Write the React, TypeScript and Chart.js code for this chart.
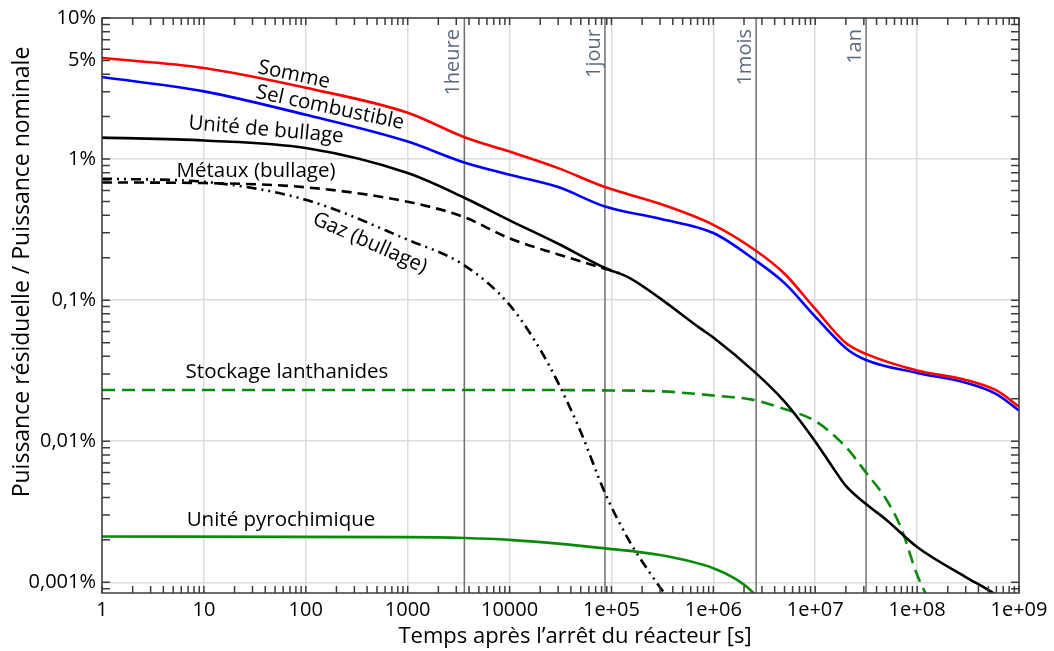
import React, { useEffect, useRef } from "react";
import { Chart, registerables } from "chart.js";

Chart.register(...registerables);

const FONT = '"Open Sans", "DejaVu Sans", sans-serif';

// ---- axes ----
const xTickValues = [1, 10, 100, 1000, 1e4, 1e5, 1e6, 1e7, 1e8, 1e9];
const xTickLabels = ["1", "10", "100", "1000", "10000", "1e+05", "1e+06", "1e+07", "1e+08", "1e+09"];
const yTickValues = [0.001, 0.01, 0.1, 1, 5, 10];
const yTickLabels = ["0,001%", "0,01%", "0,1%", "1%", "5%", "10%"];
const xMin = 1;
const xMax = 1e9;
const yMin = 0.00084;
const yMax = 10;

const xAxisTitle = "Temps après l’arrêt du réacteur [s]";
const yAxisTitle = "Puissance résiduelle / Puissance nominale";

// ---- time markers ----
const eventTimes = [3600, 86400, 2629800, 31557600];
const eventLabels = ["1heure", "1jour", "1mois", "1an"];

// ---- series (values in % of nominal power) ----
const sommeTimes = [1, 10, 100, 1000, 3600, 1e4, 3e4, 86400, 3e5, 1e6, 2.6e6, 5e6, 1e7, 2e7, 3.15e7, 1e8, 3e8, 6e8, 1e9];
const sommeValues = [5.2, 4.42, 3.2, 2.13, 1.43, 1.13, 0.863, 0.633, 0.482, 0.342, 0.225, 0.154, 0.0866, 0.0496, 0.0416, 0.0317, 0.0272, 0.0229, 0.0176];

const selTimes = [1, 10, 100, 1000, 3600, 1e4, 3e4, 86400, 3e5, 1e6, 2.6e6, 5e6, 1e7, 2e7, 3.15e7, 1e8, 3e8, 6e8, 1e9];
const selValues = [3.82, 3.02, 2.06, 1.33, 0.946, 0.774, 0.633, 0.461, 0.377, 0.299, 0.191, 0.132, 0.0765, 0.0457, 0.0377, 0.0305, 0.026, 0.0216, 0.0165];

const bullageTimes = [1, 10, 100, 1000, 3600, 1e4, 3e4, 86400, 1.5e5, 3e5, 7.4e5, 1e6, 2.6e6, 5e6, 7e6, 1e7, 1.5e7, 2e7, 3.15e7, 5e7, 1e8, 3e8, 6e8, 1e9];
const bullageValues = [1.42, 1.355, 1.197, 0.796, 0.532, 0.368, 0.251, 0.169, 0.144, 0.103, 0.0633, 0.0543, 0.0305, 0.0191, 0.01416, 0.00997, 0.00647, 0.00482, 0.00359, 0.00277, 0.00178, 0.00109, 0.00081, 0.0006];

const metauxTimes = [1, 10, 100, 1000, 3600, 1e4, 3e4, 86400, 1.2e5];
const metauxValues = [0.683, 0.676, 0.631, 0.498, 0.387, 0.274, 0.211, 0.167, 0.155];

const gazTimes = [1, 10, 100, 1000, 3600, 1e4, 2e4, 3e4, 5e4, 86400, 1.5e5, 2.5e5, 4e5];
const gazValues = [0.726, 0.69, 0.514, 0.268, 0.1766, 0.0926, 0.0446, 0.0259, 0.01164, 0.0043, 0.00196, 0.00111, 0.00069];

const lanthTimes = [1, 1e4, 1e5, 3e5, 1e6, 2.6e6, 5e6, 1e7, 2e7, 3.15e7, 5e7, 7e7, 1e8, 1.3e8];
const lanthValues = [0.0231, 0.0231, 0.0229, 0.0226, 0.0211, 0.0195, 0.0169, 0.0139, 0.0091, 0.006, 0.00385, 0.0024, 0.00113, 0.00075];

const pyroTimes = [1, 1000, 3600, 1e4, 3e4, 86400, 3e5, 1e6, 1.6e6, 2.4e6, 3.5e6];
const pyroValues = [0.00211, 0.00209, 0.00206, 0.002, 0.00188, 0.00174, 0.00156, 0.00126, 0.00107, 0.00086, 0.0006];

// ---- curve annotations: text, time, value, angle (deg) ----
const curveLabelTexts = ["Somme", "Sel combustible", "Unité de bullage", "Métaux (bullage)", "Gaz (bullage)", "Stockage lanthanides", "Unité pyrochimique"];
const curveLabelTimes = [76.6, 172.8, 40.7, 32.5, 426, 65.4, 57.1];
const curveLabelValues = [3.96, 2.31, 1.61, 0.824, 0.254, 0.031, 0.00277];
const curveLabelAngles = [12, 12, 5, 0, 24, 0, 0];

const pts = (ts: number[], vs: number[]) => ts.map((t, i) => ({ x: t, y: vs[i] }));

const decoPlugin = {
  id: "deco",
  beforeDatasetsDraw(chart: any) {
    const { ctx, chartArea: a, scales } = chart;
    const x = scales.x;
    ctx.save();
    eventTimes.forEach((t, i) => {
      const px = x.getPixelForValue(t);
      ctx.strokeStyle = "#6f6f6f";
      ctx.lineWidth = 1.5;
      ctx.beginPath();
      ctx.moveTo(px, a.top);
      ctx.lineTo(px, a.bottom);
      ctx.stroke();
      ctx.save();
      ctx.translate(px - 5, a.top + 11);
      ctx.rotate(-Math.PI / 2);
      ctx.fillStyle = "#5a6a7e";
      ctx.font = `20px ${FONT}`;
      ctx.textAlign = "right";
      ctx.textBaseline = "alphabetic";
      ctx.fillText(eventLabels[i], 0, 0);
      ctx.restore();
    });
    ctx.restore();
  },
  afterDatasetsDraw(chart: any) {
    const { ctx, chartArea: a, scales } = chart;
    const x = scales.x;
    const y = scales.y;
    ctx.save();
    // frame
    ctx.strokeStyle = "#3c3c3c";
    ctx.lineWidth = 1.5;
    ctx.strokeRect(a.left, a.top, a.right - a.left, a.bottom - a.top);
    // inward minor ticks
    ctx.beginPath();
    for (let e = 0; e <= 9; e++) {
      for (let k = 1; k <= 9; k++) {
        const v = k * Math.pow(10, e);
        if (v > xMax) break;
        const px = x.getPixelForValue(v);
        ctx.moveTo(px, a.bottom);
        ctx.lineTo(px, a.bottom - 7);
        ctx.moveTo(px, a.top);
        ctx.lineTo(px, a.top + 7);
      }
    }
    for (let e = -4; e <= 1; e++) {
      for (let k = 1; k <= 9; k++) {
        const v = k * Math.pow(10, e);
        if (v < yMin || v > yMax) continue;
        const py = y.getPixelForValue(v);
        ctx.moveTo(a.left, py);
        ctx.lineTo(a.left + 8, py);
        ctx.moveTo(a.right, py);
        ctx.lineTo(a.right - 8, py);
      }
    }
    ctx.stroke();
    // curve labels
    ctx.fillStyle = "#000";
    ctx.font = `20.5px ${FONT}`;
    ctx.textAlign = "center";
    ctx.textBaseline = "middle";
    curveLabelTexts.forEach((txt, i) => {
      const px = x.getPixelForValue(curveLabelTimes[i]);
      const py = y.getPixelForValue(curveLabelValues[i]);
      ctx.save();
      ctx.translate(px, py);
      ctx.rotate((curveLabelAngles[i] * Math.PI) / 180);
      ctx.fillText(txt, 0, 0);
      ctx.restore();
    });
    // axis titles
    ctx.fillStyle = "#000";
    ctx.font = `22px ${FONT}`;
    ctx.textAlign = "center";
    ctx.textBaseline = "middle";
    ctx.fillText(xAxisTitle, 575, 637);
    ctx.save();
    ctx.translate(22, 272);
    ctx.rotate(-Math.PI / 2);
    ctx.font = `23px ${FONT}`;
    ctx.fillText(yAxisTitle, 0, 0);
    ctx.restore();
    ctx.restore();
  },
};

export default function App() {
  const ref = useRef<HTMLCanvasElement | null>(null);
  useEffect(() => {
    if (!ref.current) return;
    const base = { pointRadius: 0, fill: false, cubicInterpolationMode: "monotone" as const, borderWidth: 2.6 };
    const chart = new Chart(ref.current, {
      type: "line",
      data: {
        datasets: [
          { ...base, label: "Somme", data: pts(sommeTimes, sommeValues), borderColor: "#ff0000" },
          { ...base, label: "Sel combustible", data: pts(selTimes, selValues), borderColor: "#0000ff" },
          { ...base, label: "Métaux (bullage)", data: pts(metauxTimes, metauxValues), borderColor: "#000", borderDash: [10, 6] },
          { ...base, label: "Gaz (bullage)", data: pts(gazTimes, gazValues), borderColor: "#000", borderDash: [10, 5, 2, 5, 2, 5] },
          { ...base, label: "Unité de bullage", data: pts(bullageTimes, bullageValues), borderColor: "#000" },
          { ...base, label: "Stockage lanthanides", data: pts(lanthTimes, lanthValues), borderColor: "#0a8a0a", borderDash: [13, 7] },
          { ...base, label: "Unité pyrochimique", data: pts(pyroTimes, pyroValues), borderColor: "#0a8a0a" },
        ],
      },
      options: {
        animation: false,
        responsive: false,
        maintainAspectRatio: false,
        layout: { padding: { top: 18, right: 35, left: 0, bottom: 0 } },
        plugins: { legend: { display: false }, tooltip: { enabled: false } },
        scales: {
          x: {
            type: "logarithmic",
            min: xMin,
            max: xMax,
            afterBuildTicks: (s: any) => {
              s.ticks = xTickValues.map((v) => ({ value: v }));
            },
            afterFit: (s: any) => {
              s.height = 58;
            },
            ticks: {
              autoSkip: false,
              maxRotation: 0,
              padding: 5,
              color: "#000",
              font: { family: FONT, size: 20 },
              callback: (v: any) => {
                const i = xTickValues.findIndex((t) => Math.abs(t - Number(v)) / t < 1e-6);
                return i >= 0 ? xTickLabels[i] : "";
              },
            },
            grid: { color: "#dcdcdc", lineWidth: 1.5, drawTicks: false },
            border: { display: false },
          },
          y: {
            type: "logarithmic",
            min: yMin,
            max: yMax,
            afterBuildTicks: (s: any) => {
              s.ticks = yTickValues.map((v) => ({ value: v }));
            },
            afterFit: (s: any) => {
              s.width = 102;
            },
            ticks: {
              autoSkip: false,
              padding: 6,
              color: "#000",
              font: { family: FONT, size: 20 },
              callback: (v: any) => {
                const i = yTickValues.findIndex((t) => Math.abs(t - Number(v)) / t < 1e-6);
                return i >= 0 ? yTickLabels[i] : "";
              },
            },
            grid: {
              color: (c: any) => (c.tick && Math.abs(c.tick.value - 5) < 1e-6 ? "rgba(0,0,0,0)" : "#dcdcdc"),
              lineWidth: 1.5,
              drawTicks: false,
            },
            border: { display: false },
          },
        },
      },
      plugins: [decoPlugin],
    } as any);
    return () => chart.destroy();
  }, []);
  return (
    <div style={{ position: "fixed", left: 0, top: 0, width: 1054, height: 651, background: "#fff" }}>
      <canvas ref={ref} width={1054} height={651} style={{ display: "block" }} />
    </div>
  );
}
